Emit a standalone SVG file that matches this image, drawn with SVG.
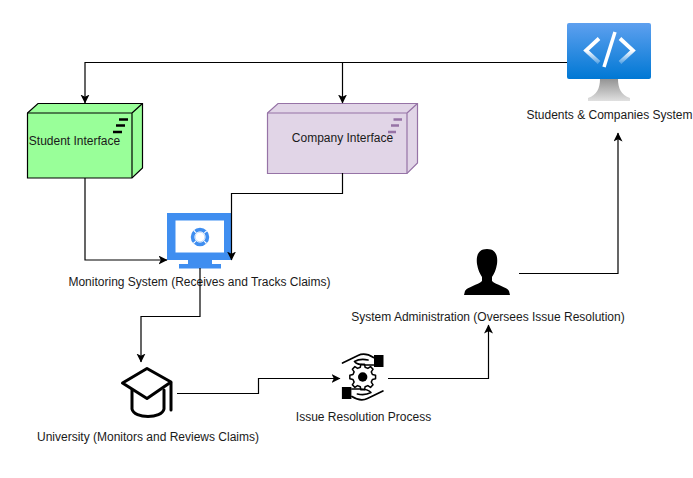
<svg xmlns="http://www.w3.org/2000/svg" width="693" height="478" viewBox="0 0 693 478">
<style>
text{font-family:"Liberation Sans",Arial,sans-serif;font-size:12px;fill:#1a1a1a;text-anchor:middle}
.c{fill:none;stroke:#000;stroke-width:1.2}
.fg{fill:none;stroke-linejoin:round;stroke-linecap:round}
</style>
<defs>
<marker id="a" markerWidth="11" markerHeight="10" refX="8.500" refY="4.500" orient="auto" markerUnits="userSpaceOnUse"><path d="M0 0L9 4.500L0 9L2.300 4.500Z" fill="#000"/></marker>
<linearGradient id="s" x1="0" y1="0" x2="0" y2="1"><stop offset="0" stop-color="#5ea0ef"/><stop offset="1" stop-color="#0078d4"/></linearGradient>
<linearGradient id="t" x1="0" y1="0" x2="0" y2="1"><stop offset="0" stop-color="#949494"/><stop offset="1" stop-color="#e0e0e0"/></linearGradient>
<linearGradient id="w" x1="0" y1="0" x2="0" y2="1"><stop offset="0.500" stop-color="#fff"/><stop offset="1" stop-color="#fff" stop-opacity="0.300"/></linearGradient>
<g id="hand">
<path class="fg" stroke="#000" stroke-width="1.700" d="M342.500 363L358 355.500C362 353.500 368 354 373.500 357.500M373.500 365H366C361 365 356 363.500 354.500 361.500C358 359.500 363 359 368 360"/>
<rect x="374" y="355" width="9.500" height="12" fill="#000"/>
</g>
</defs>
<rect width="693" height="478" fill="#fff"/>
<g id="students-companies-system">
<path d="M588 101V98C597 95 600 88 600 79H618C618 88 621 95 630 98V101Z" fill="url(#t)"/>
<rect x="567" y="23" width="84" height="56" rx="2" fill="url(#s)"/>
<path stroke="url(#w)" fill="none" stroke-width="3.800" d="M599 38.500L586 50.500L599 62.500"/>
<path stroke="url(#w)" fill="none" stroke-width="3.800" d="M620 38.500L633 50.500L620 62.500"/>
<path stroke="#fff" fill="none" stroke-width="3.500" d="M615 32L604 67"/>
<text x="609.500" y="119">Students &amp; Companies System</text>
</g>
<g id="student-interface">
<path d="M27.500 113L38 103.500H142.500V168L132 178H27.500Z" fill="#99ff99" stroke="#000" stroke-width="1.200"/>
<path d="M27.500 113H132V178M132 113L142.500 103.500" fill="none" stroke="#000" stroke-width="1.200"/>
<path d="M119 119.500H128M116 125.500H125M113 132H122" stroke="#000" stroke-width="2.500" fill="none"/>
<text x="74.500" y="145">Student Interface</text>
</g>
<g id="company-interface">
<path d="M267.500 113L278 103.500H417.500V163L407 173.500H267.500Z" fill="#e1d5e7" stroke="#9673a6" stroke-width="1.200"/>
<path d="M267.500 113H407V173.500M407 113L417.500 103.500" fill="none" stroke="#9673a6" stroke-width="1.200"/>
<path d="M393.500 119.500H402M391 125.500H399M388 132H396" stroke="#9673a6" stroke-width="2.500" fill="none"/>
<text x="342.500" y="142">Company Interface</text>
</g>
<g id="monitoring-system">
<rect x="167" y="213" width="65" height="47" fill="#3f8ef0"/>
<rect x="175.500" y="220.500" width="48.500" height="32" fill="#fff"/>
<rect x="188" y="260" width="24" height="5" fill="#3f8ef0"/>
<rect x="179" y="264" width="42" height="4.500" fill="#3f8ef0"/>
<circle cx="200" cy="237" r="7" fill="none" stroke="#3f8ef0" stroke-width="4.500"/>
<circle cx="200" cy="237" r="7" fill="none" stroke="#fff" stroke-width="4.500" stroke-dasharray="1 9.996" stroke-dashoffset="-5"/>
<circle cx="200" cy="237" r="5.200" fill="none" stroke="#fff" stroke-width="0.800"/>
<text x="199.500" y="286">Monitoring System (Receives and Tracks Claims)</text>
</g>
<g id="system-administration">
<path d="M487 249C478 249 476 256 477 264C478 270 480 274 482 277V281C478 285 467 287 465 291L464 295H510L509 291C507 287 496 285 492 281V277C494 274 496 270 497 264C498 256 496 249 487 249Z" fill="#000"/>
<text x="488" y="321">System Administration (Oversees Issue Resolution)</text>
</g>
<g id="university">
<path class="fg" stroke="#000" stroke-width="3" d="M147 368.500L171 382L147 398.500L122.500 383Z"/>
<path class="fg" stroke="#000" stroke-width="3" d="M132 390V409C134 419 162 419 164 409V390M171 383V410"/>
<text x="148" y="441">University (Monitors and Reviews Claims)</text>
</g>
<g id="issue-resolution-process">
<use href="#hand"/>
<use href="#hand" transform="rotate(180 362.700 377)"/>
<circle cx="362.700" cy="377" r="4.700" fill="#000"/>
<path class="fg" stroke="#000" stroke-width="1.500" transform="translate(362.700 377)" d="M9.700 -2.420L12.870 -1.810V1.810L9.700 2.420L8.570 5.150L10.380 7.820L7.820 10.380L5.150 8.570L2.420 9.700L1.810 12.870H-1.810L-2.420 9.700L-5.150 8.570L-7.820 10.380L-10.380 7.820L-8.570 5.150L-9.700 2.420L-12.870 1.810V-1.810L-9.700 -2.420L-8.570 -5.150L-10.380 -7.820L-7.820 -10.380L-5.150 -8.570L-2.420 -9.700L-1.810 -12.870H1.810L2.420 -9.700L5.150 -8.570L7.820 -10.380L10.380 -7.820L8.570 -5.150Z"/>
<text x="363.500" y="421">Issue Resolution Process</text>
</g>
<g id="connectors">
<path class="c" marker-end="url(#a)" d="M567 62.500H85V103"/>
<path class="c" marker-end="url(#a)" d="M342.500 62.500V103"/>
<path class="c" marker-end="url(#a)" d="M85 178V260H167"/>
<path class="c" marker-end="url(#a)" d="M342.500 173V193.500H231.500V260"/>
<path class="c" marker-end="url(#a)" d="M200 268V316.500H141V362"/>
<path class="c" marker-end="url(#a)" d="M177 393.500H258.500V378.500H340"/>
<path class="c" marker-end="url(#a)" d="M388 378.500H488.500V325"/>
<path class="c" marker-end="url(#a)" d="M519 273.500H618V133"/>
</g>
</svg>
